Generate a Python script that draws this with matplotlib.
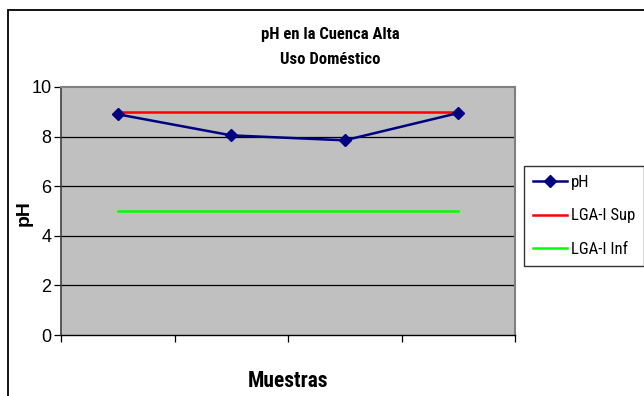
import matplotlib
matplotlib.use("Agg")
import matplotlib.pyplot as plt
from matplotlib.patches import Rectangle

muestras = ["1", "2", "3", "4"]
ph = [8.9, 8.05, 7.85, 8.95]
lga_sup = [9, 9, 9, 9]
lga_inf = [5, 5, 5, 5]
yticks = [0, 2, 4, 6, 8, 10]

COND = ["Roboto Condensed", "DejaVu Sans"]
plt.rcParams["font.family"] = ["Liberation Sans", "DejaVu Sans"]

W, H = 644, 396
fig = plt.figure(figsize=(W / 100, H / 100), dpi=100)

# outer chart frame
fig.patches.append(Rectangle((8 / W, -0.1), 1.2, (H - 10) / H + 0.1,
                             transform=fig.transFigure, fill=False,
                             edgecolor="black", linewidth=1.3))

x0, x1, ytop, ybot = 61, 515, 87, 335
ax = fig.add_axes([x0 / W, 1 - ybot / H, (x1 - x0) / W, (ybot - ytop) / H])
ax.set_facecolor("#C0C0C0")

xs = [i + 0.5 for i in range(len(muestras))]
ax.plot(xs, ph, color="#000080", linewidth=1.8, marker="D", markersize=6,
        label="pH", zorder=4)
ax.plot(xs, lga_sup, color="#FF0000", linewidth=1.8, label="LGA-I Sup", zorder=3)
ax.plot(xs, lga_inf, color="#00FF00", linewidth=1.8, label="LGA-I Inf", zorder=3)

ax.set_xlim(0, len(muestras))
ax.set_ylim(0, 10)
ax.set_yticks(yticks)
ax.set_xticks(range(len(muestras) + 1))
ax.set_xticklabels([])
for y in yticks[1:-1]:
    ax.axhline(y, color="black", linewidth=0.9, zorder=1)

for s in ("top", "right"):
    ax.spines[s].set_color("#808080")
    ax.spines[s].set_linewidth(1.5)
ax.spines["left"].set_color("#404040")
ax.spines["left"].set_linewidth(1.2)
ax.spines["bottom"].set_color("black")
ax.spines["bottom"].set_linewidth(1.0)

ax.tick_params(axis="y", direction="out", length=5, width=0.9, labelsize=13,
               pad=2)
ax.tick_params(axis="x", direction="out", length=5, width=0.9)

ax.set_ylabel("pH", fontsize=14, fontweight="bold")
ax.yaxis.set_label_coords((33 - x0) / (x1 - x0), (ybot - 213) / (ybot - ytop))

fig.text(288 / W, 1 - 381 / H, "Muestras", ha="center", va="center",
         fontsize=15.5, fontweight="bold", family=COND)
fig.text(330 / W, 1 - 34 / H, "pH en la Cuenca Alta", ha="center",
         va="center", fontsize=12, fontweight="bold", family=COND)
fig.text(330 / W, 1 - 60 / H, "Uso Doméstico", ha="center",
         va="center", fontsize=12, fontweight="bold", family=COND)

leg = fig.legend(loc="upper left", bbox_to_anchor=(524 / W, 1 - 166 / H),
                 frameon=True, fancybox=False, handlelength=2.0,
                 handletextpad=0.25, labelspacing=1.1, borderpad=0.55,
                 borderaxespad=0, prop={"family": COND, "size": 12})
leg.get_frame().set_edgecolor("black")
leg.get_frame().set_linewidth(1.0)

fig.savefig("out.png", dpi=100)
